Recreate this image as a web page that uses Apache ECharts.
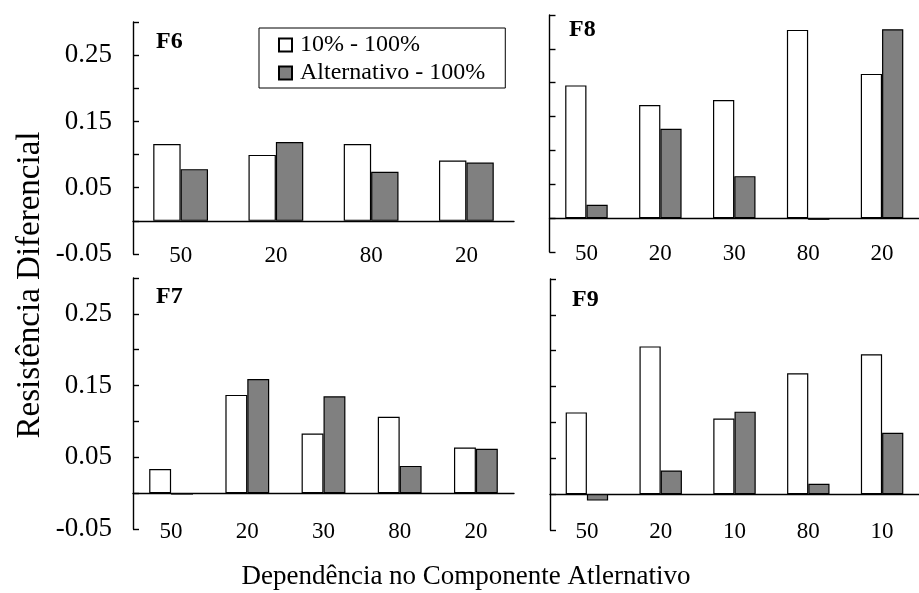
<!DOCTYPE html>
<html>
<head>
<meta charset="utf-8">
<script src="https://cdn.jsdelivr.net/npm/echarts@6/dist/echarts.min.js"></script>
<style>html,body{margin:0;padding:0;background:#fff}#c{width:919px;height:593px}</style>
</head>
<body>
<div id="c"></div>
<script>
const seriesNames = ['10% - 100%', 'Alternativo - 100%'];
const catsF6 = ['50', '20', '80', '20'];
const f6White = [0.116, 0.0995, 0.116, 0.091];
const f6Gray  = [0.078, 0.119, 0.074, 0.088];
const catsF8 = ['50', '20', '30', '80', '20'];
const f8White = [0.196, 0.167, 0.1745, 0.278, 0.213];
const f8Gray  = [0.0196, 0.132, 0.062, -0.0025, 0.279];
const catsF7 = ['50', '20', '30', '80', '20'];
const f7White = [0.0335, 0.137, 0.083, 0.1065, 0.0635];
const f7Gray  = [-0.002, 0.159, 0.135, 0.038, 0.062];
const catsF9 = ['50', '20', '10', '80', '10'];
const f9White = [0.114, 0.206, 0.1055, 0.1685, 0.195];
const f9Gray  = [-0.009, 0.033, 0.115, 0.0144, 0.0856];
const yTickLabels = ['-0.05', '0.05', '0.15', '0.25'];
const panelLabels = ['F6', 'F8', 'F7', 'F9'];
const yTitle = 'Resistência Diferencial';
const xTitle = 'Dependência no Componente Atlernativo';

const FONT = '"Liberation Serif", "Times New Roman", serif';
const chart = echarts.init(document.getElementById('c'));

const grids = [
  {left: 133, top: 22, width: 381, height: 232},
  {left: 549.5, top: 15, width: 380, height: 237},
  {left: 133, top: 278, width: 381, height: 251},
  {left: 550, top: 279, width: 380, height: 251}
];
const cats = [catsF6, catsF8, catsF7, catsF9];
const whites = [f6White, f8White, f7White, f9White];
const grays = [f6Gray, f8Gray, f7Gray, f9Gray];
const labelMargins = [-10, -9.5, -8.5, -9.5];

const xAxes = cats.map((c, i) => ({
  type: 'category', gridIndex: i, data: c,
  axisLine: {show: true, onZero: true, lineStyle: {color: '#000', width: 1.4}},
  axisTick: {show: false},
  axisLabel: {color: '#000', fontSize: 23, fontFamily: FONT, margin: labelMargins[i], interval: 0},
  splitLine: {show: false}
}));
const yAxes = cats.map((c, i) => ({
  type: 'value', gridIndex: i, min: -0.05, max: 0.30, interval: 0.05,
  axisLine: {show: true, lineStyle: {color: '#000', width: 1.4}},
  axisTick: {show: true, inside: true, length: 6, lineStyle: {color: '#000', width: 1.4}},
  splitLine: {show: false},
  axisLabel: {
    show: (i === 0 || i === 2), color: '#000', fontSize: 27, fontFamily: FONT, margin: 21,
    formatter: v => { const s = v.toFixed(2); return yTickLabels.includes(s) ? s : ''; }
  }
}));
const series = [];
cats.forEach((c, i) => {
  series.push({
    name: seriesNames[0], type: 'bar', xAxisIndex: i, yAxisIndex: i, data: whites[i],
    barGap: '0%', barCategoryGap: '42.5%',
    itemStyle: {color: '#ffffff', borderColor: '#000', borderWidth: 1.2}
  });
  series.push({
    name: seriesNames[1], type: 'bar', xAxisIndex: i, yAxisIndex: i, data: grays[i],
    barGap: '0%', barCategoryGap: '42.5%',
    itemStyle: {color: '#808080', borderColor: '#000', borderWidth: 1.2}
  });
});
const labelPos = [[156, 30], [569, 18], [156, 285], [572, 288]];
const titles = panelLabels.map((t, i) => ({
  text: t, left: labelPos[i][0], top: labelPos[i][1], padding: 0,
  textStyle: {fontFamily: FONT, fontWeight: 'bold', fontSize: 24, color: '#000'}
}));

chart.setOption({
  animation: false,
  backgroundColor: '#fff',
  title: titles,
  grid: grids,
  xAxis: xAxes,
  yAxis: yAxes,
  legend: {
    data: seriesNames, orient: 'vertical', left: 259, top: 28,
    icon: 'rect', itemWidth: 13, itemHeight: 13, itemGap: 4,
    padding: [5, 20, 3, 19],
    backgroundColor: '#fff', borderColor: '#000', borderWidth: 1,
    textStyle: {fontFamily: FONT, fontSize: 24, color: '#000', padding: [0, 0, 0, 3]}
  },
  graphic: [
    {type: 'text', x: 30, y: 285, rotation: Math.PI / 2,
     style: {text: yTitle, align: 'center', verticalAlign: 'middle', font: '33px ' + FONT, fill: '#000'}},
    {type: 'text', x: 466, y: 577,
     style: {text: xTitle, align: 'center', verticalAlign: 'middle', font: '27px ' + FONT, fill: '#000'}}
  ],
  series: series
});
</script>
</body>
</html>
